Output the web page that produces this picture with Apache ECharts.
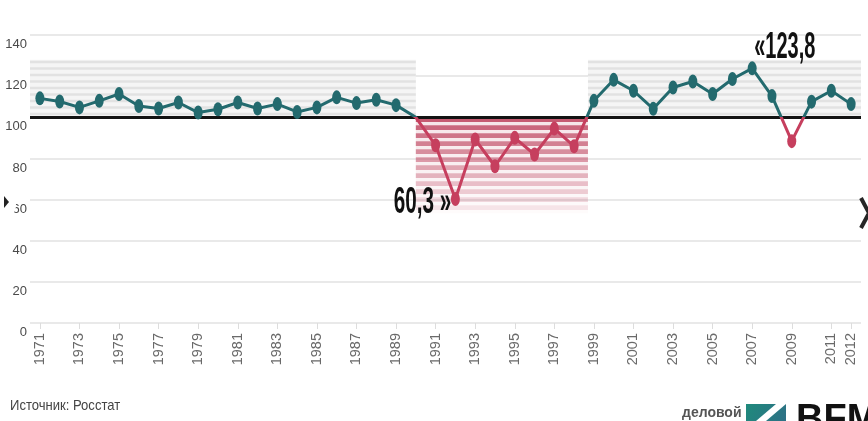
<!DOCTYPE html>
<html>
<head>
<meta charset="utf-8">
<script src="https://cdn.jsdelivr.net/npm/echarts@6/dist/echarts.min.js"></script>
<style>
  html, body { margin: 0; padding: 0; background: #fff; }
  #chart { width: 868px; height: 421px; }
</style>
</head>
<body>
<div id="chart"></div>
<script>
// Annual index, previous year = 100
const years = ['1971','1972','1973','1974','1975','1976','1977','1978','1979','1980',
  '1981','1982','1983','1984','1985','1986','1987','1988','1989','1990',
  '1991','1992','1993','1994','1995','1996','1997','1998','1999','2000',
  '2001','2002','2003','2004','2005','2006','2007','2008','2009','2010',
  '2011','2012'];
const indexValues = [109.2, 107.7, 104.8, 108.0, 111.3, 105.5, 104.3, 107.2, 102.3, 103.9,
  107.2, 104.3, 106.4, 102.6, 104.8, 109.7, 106.9, 108.5, 105.9, 100.0,
  86.4, 60.3, 89.2, 76.2, 90.0, 81.9, 94.5, 85.9, 108.0, 118.2,
  112.9, 104.1, 114.5, 117.4, 111.3, 118.6, 123.8, 110.3, 88.4, 107.6,
  112.9, 106.4];
const yTicks = [0, 20, 40, 60, 80, 100, 120, 140];
const baseLevel = 100;
const unmarkedYears = ['1990'];
const calloutYears = { low: '1992', high: '2007' };
const sourceText = 'Источник: Росстат';

const TEAL = '#236a6e';
const RED = '#c63f5e';
const SANS = "'Liberation Sans','Arimo',sans-serif";

// Striped backdrop behind growth and decline periods (index units on the hidden value axis)
const bandZones = [
  { from: -0.5, to: 19, top: 128, bottom: 100, kind: 'up' },
  { from: 19, to: 27.7, top: 100, bottom: 57, kind: 'down' },
  { from: 27.7, to: 41.5, top: 128, bottom: 100, kind: 'up' }
];

function renderBand(params, api) {
  const z = bandZones[params.dataIndex];
  const p0 = api.coord([z.from, z.top]);
  const p1 = api.coord([z.to, z.bottom]);
  const x = p0[0], w = p1[0] - p0[0];
  const yTop = p0[1], yBot = p1[1], h = yBot - yTop;
  const children = [];
  if (z.kind === 'up') {
    children.push({ type: 'rect', shape: { x, y: yTop, width: w, height: h }, style: { fill: '#f5f5f5' } });
    for (let y = yTop + 1; y < yBot - 1; y += 6.5) {
      children.push({ type: 'rect', shape: { x, y, width: w, height: 2.6 }, style: { fill: '#e2e2e2' } });
    }
  } else {
    for (let y = yTop; y < yBot; y += 8) {
      const t = (y - yTop) / h;
      const a = 0.88 - 0.74 * t;
      children.push({ type: 'rect', shape: { x, y, width: w, height: 4.6 },
        style: { fill: 'rgba(190,68,95,' + a.toFixed(3) + ')' } });
      children.push({ type: 'rect', shape: { x, y: y + 4.6, width: w, height: 3.4 },
        style: { fill: 'rgba(214,140,155,' + (a * 0.25).toFixed(3) + ')' } });
    }
  }
  return { type: 'group', children };
}

const chart = echarts.init(document.getElementById('chart'), null, { renderer: 'canvas' });

const lineData = indexValues.map((v, i) =>
  unmarkedYears.includes(years[i]) ? { value: v, symbol: 'none' } : v);

const labelEvery = (i) => i % 2 === 0 || i === years.length - 1;

chart.setOption({
  animation: false,
  backgroundColor: '#ffffff',
  grid: { left: 30, right: 7, top: 35, bottom: 98 },
  xAxis: [
    {
      type: 'category',
      data: years,
      boundaryGap: true,
      axisLine: { show: false },
      axisTick: {
        show: true, length: 6, alignWithLabel: true,
        interval: labelEvery,
        lineStyle: { color: '#dddddd' }
      },
      axisLabel: {
        rotate: 90,
        margin: 10,
        interval: labelEvery,
        color: '#6a6a6a',
        fontSize: 14.5,
        fontFamily: SANS
      },
      splitLine: { show: false }
    },
    { type: 'value', min: -0.5, max: 41.5, show: false }
  ],
  yAxis: {
    type: 'value',
    min: yTicks[0],
    max: yTicks[yTicks.length - 1],
    interval: yTicks[1] - yTicks[0],
    axisLine: { show: false },
    axisTick: { show: false },
    axisLabel: {
      color: '#4a4a4a',
      fontSize: 13,
      fontFamily: SANS,
      margin: 3,
      verticalAlign: 'top',
      padding: [3, 0, 0, 0]
    },
    splitLine: { lineStyle: { color: '#e9e9e9', width: 2 } }
  },
  series: [
    {
      type: 'custom',
      xAxisIndex: 1,
      yAxisIndex: 0,
      z: 1,
      silent: true,
      renderItem: renderBand,
      data: bandZones.map((z, i) => [i]),
      markLine: {
        silent: true,
        symbol: 'none',
        label: { show: false },
        lineStyle: { color: '#121212', width: 3, type: 'solid' },
        data: [{ yAxis: baseLevel }]
      }
    },
    {
      type: 'line',
      xAxisIndex: 0,
      yAxisIndex: 0,
      z: 5,
      data: lineData,
      symbol: 'circle',
      symbolSize: [9, 14],
      showAllSymbol: true,
      itemStyle: { color: (p) => (p.value >= baseLevel ? TEAL : RED) },
      lineStyle: { width: 3, color: TEAL }
    }
  ]
});

// Line colour switches at the base level: a global vertical gradient built from the y scale
const toY = (v) => chart.convertToPixel({ yAxisIndex: 0 }, v);
const yHi = toY(yTicks[yTicks.length - 1]);
const yLo = toY(yTicks[0]);
const cut = (toY(baseLevel) - yHi) / (yLo - yHi);
const splitColor = new echarts.graphic.LinearGradient(0, yHi, 0, yLo, [
  { offset: 0, color: TEAL }, { offset: cut, color: TEAL },
  { offset: cut, color: RED }, { offset: 1, color: RED }
], true);

// Value callouts for the minimum and the maximum, placed through the chart's own scales
function fmt(v) { return String(v).replace('.', ','); }
const lowIdx = years.indexOf(calloutYears.low);
const highIdx = years.indexOf(calloutYears.high);
const lowPt = chart.convertToPixel({ xAxisIndex: 0, yAxisIndex: 0 }, [lowIdx, indexValues[lowIdx]]);
const highPt = chart.convertToPixel({ xAxisIndex: 0, yAxisIndex: 0 }, [highIdx, indexValues[highIdx]]);

chart.setOption({
  series: [{}, { lineStyle: { color: splitColor } }],
  graphic: [
    {
      type: 'text', x: 10, y: 398, scaleX: 0.9,
      style: { text: sourceText, fontSize: 14.5, fontFamily: SANS, fill: '#444' }
    },
    // navigation arrows
    { type: 'circle', shape: { cx: 0, cy: 205, r: 16 }, style: { fill: '#ffffff' }, z: 50 },
    { type: 'polygon', shape: { points: [[4, 196], [9, 202], [4, 208]] }, style: { fill: '#222' }, z: 51 },
    { type: 'circle', shape: { cx: 872, cy: 213, r: 16 }, style: { fill: '#ffffff' }, z: 50 },
    { type: 'polyline', shape: { points: [[861, 198], [869, 213], [861, 228]] },
      style: { stroke: '#262626', lineWidth: 4, fill: null }, z: 51 },
    // publisher mark
    { type: 'text', x: 682, y: 406,
      style: { text: 'деловой', fontSize: 14, fontWeight: 'bold', fontFamily: SANS, fill: '#555' } },
    { type: 'rect', shape: { x: 746, y: 404, width: 40, height: 20 },
      style: { fill: new echarts.graphic.LinearGradient(0, 0, 1, 1, [
        { offset: 0, color: '#1f8a7c' }, { offset: 1, color: '#2e6f86' }]) } },
    { type: 'polygon', shape: { points: [[776, 404], [786, 404], [766, 421], [756, 421]] },
      style: { fill: '#ffffff' } },
    { type: 'text', x: 796, y: 402,
      style: { text: 'BFM', fontSize: 38, fontWeight: 'bold', fontFamily: SANS, fill: '#111' } },
    // callouts
    {
      type: 'text', x: lowPt[0] - 4, y: lowPt[1] + 4, scaleX: 0.56, z: 60,
      style: { text: fmt(indexValues[lowIdx]) + ' »', align: 'right', verticalAlign: 'middle',
        fontSize: 37, fontWeight: 'bold', fontFamily: SANS, fill: '#111' }
    },
    {
      type: 'text', x: highPt[0] + 2, y: highPt[1] - 21, scaleX: 0.54, z: 60,
      style: { text: '«' + fmt(indexValues[highIdx]), align: 'left', verticalAlign: 'middle',
        fontSize: 37, fontWeight: 'bold', fontFamily: SANS, fill: '#111' }
    }
  ]
});
</script>
</body>
</html>
